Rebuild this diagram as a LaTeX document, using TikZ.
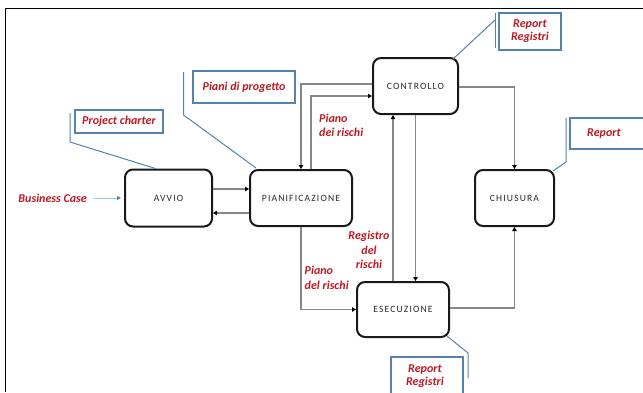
\documentclass[tikz,border=0pt]{standalone}
\usepackage{fontspec}
\setmainfont{Carlito}
\newfontfamily\boxfont[LetterSpace=12]{Carlito}
\usetikzlibrary{arrows.meta}

\definecolor{boxline}{RGB}{25,25,25}
\definecolor{boxtext}{RGB}{40,40,40}
\definecolor{flowgray}{RGB}{135,135,135}
\definecolor{labelred}{RGB}{190,25,35}
\definecolor{callblue}{RGB}{85,130,170}
\definecolor{inblue}{RGB}{150,190,225}

\tikzset{
  phase/.style={draw=boxline, line width=2pt, rounded corners=8pt, fill=white,
    font=\boxfont\fontsize{9.6}{11}\selectfont, text=boxtext, inner sep=0pt},
  conn/.style={draw=flowgray, line width=1.2pt,
    -{Triangle[length=4pt,width=4.5pt,color=black]}},
  lbl/.style={font=\bfseries\itshape\fontsize{12}{14.5}\selectfont, text=labelred, inner sep=0pt},
  lbltight/.style={lbl, font=\bfseries\itshape\fontsize{12}{13}\selectfont},
  callbox/.style={draw=callblue, line width=1.3pt, inner sep=0pt},
  leader/.style={draw=callblue, line width=1pt},
}

\begin{document}
\begin{tikzpicture}[x=1pt,y=-1pt]
\useasboundingbox (0,0) rectangle (643,392);

% outer frame (only top and left edges fall inside the page)
\draw[line width=1.5pt, black] (643,8.5) -- (5.5,8.5) -- (5.5,392);

% project phases
\node[phase, minimum width=87pt, minimum height=57pt] (avvio) at (168.5,198) {AVVIO};
\node[phase, minimum width=102pt, minimum height=56pt] (pian) at (301,198) {PIANIFICAZIONE};
\node[phase, minimum width=85pt, minimum height=56pt] (contr) at (415.5,86) {CONTROLLO};
\node[phase, minimum width=79pt, minimum height=56pt] (chius) at (514.5,198) {CHIUSURA};
\node[phase, minimum width=92pt, minimum height=55pt] (esec) at (403,309.5) {ESECUZIONE};

% input
\node[lbl, anchor=east] (bc) at (87,198) {Business Case};
\draw[draw=inblue, line width=1pt, shorten <=7pt, shorten >=3pt,
      -{Triangle[length=4pt,width=4pt,color=callblue]}] (bc.east) -- (avvio.west);

% flows between phases
\draw[conn] ([yshift=9pt]avvio.east) -- ([yshift=9pt]pian.west);
\draw[conn] ([yshift=-15pt]pian.west) -- ([yshift=-15pt]avvio.east);
\draw[conn] ([yshift=2pt]contr.west) -| (pian.north);
\draw[conn] ([xshift=10pt]pian.north) |- ([yshift=-10pt]contr.west);
\draw[conn] ([yshift=-1pt]contr.east) -| (chius.north);
\draw[conn] ([yshift=1.5pt]esec.east) -| (chius.south);
\draw[conn] (pian.south) |- (esec.west);
\draw[conn] (contr.south) -- (contr.south |- esec.north);
\draw[conn] ([xshift=-10pt]esec.north) -- ([xshift=-10pt]esec.north |- contr.south);

% flow labels
\node[lbl, align=left, anchor=west] (pr1) at (319,125.5) {Piano\\dei rischi};
\node[lbl, align=center] (rr) at (369,250) {Registro\\del\\rischi};
\node[lbl, align=left, anchor=west] (pr2) at (304.5,278) {Piano\\del rischi};

% callouts with accent bars
\node[callbox, minimum width=88pt, minimum height=23pt] (cpc) at (119,121.5) {};
\node[lbl] at (cpc) {Project charter};
\coordinate (cpcT) at (70,113);
\coordinate (cpcB) at (70,142);
\draw[leader] (cpcT) -- (cpcB) -- ([xshift=-13pt]avvio.north);

\node[callbox, minimum width=102pt, minimum height=32pt] (cpp) at (244,87) {};
\node[lbl] at (cpp) {Piani di progetto};
\coordinate (cppT) at (183.5,72);
\coordinate (cppB) at (183.5,115);
\draw[leader] (cppT) -- (cppB) -- ([xshift=7pt,yshift=1pt]pian.north west);

\node[callbox, minimum width=62pt, minimum height=37pt] (crt) at (530,31.5) {};
\node[lbltight, align=center] at (crt) {Report\\Registri};
\coordinate (crtT) at (495,13);
\coordinate (crtB) at (495,48);
\coordinate (crtJ) at (495,20);
\draw[leader] (crtT) -- (crtB);
\draw[leader] (crtJ) -- ([xshift=-6pt,yshift=-2pt]contr.north east);

\node[callbox, minimum width=90pt, minimum height=31pt] (crr) at (615,133.5) {};
\node[lbl] at (604,133.5) {Report};
\coordinate (crrT) at (566,118);
\coordinate (crrB) at (566,162);
\draw[leader] (crrT) -- (crrB) -- ([xshift=-2pt,yshift=-2pt]chius.north east);

\node[callbox, minimum width=72pt, minimum height=44pt] (crb) at (427,379) {};
\node[lbltight, align=center] at (425,376.5) {Report\\Registri};
\coordinate (crbT) at (468,353);
\coordinate (crbB) at (468,378);
\draw[leader] ([xshift=-3pt,yshift=2pt]esec.south east) -- (crbT) -- (crbB);
\end{tikzpicture}
\end{document}
